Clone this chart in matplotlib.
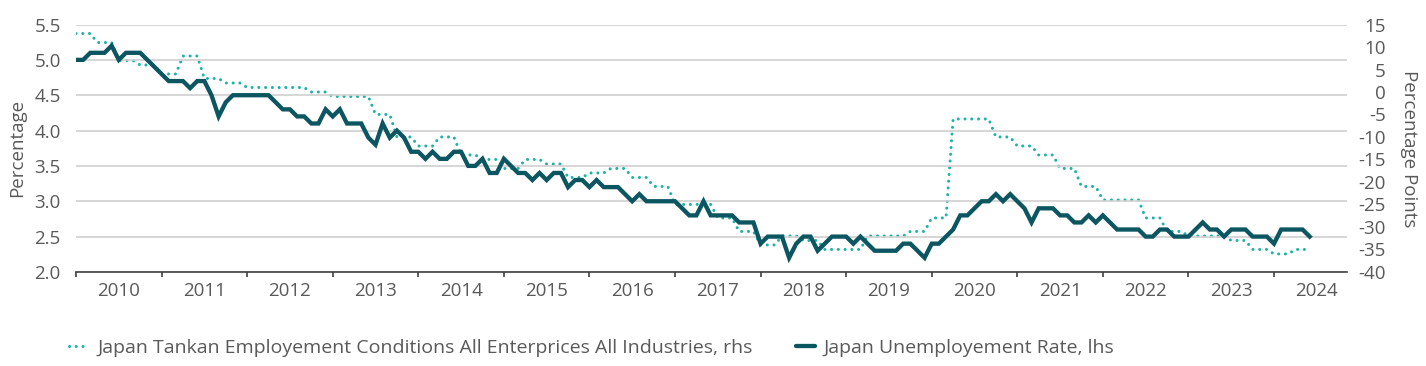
import numpy as np
import matplotlib
matplotlib.use("Agg")
from matplotlib import pyplot as plt

plt.rcParams["font.family"] = ["Open Sans", "DejaVu Sans"]

# monthly, Jan 2010 - Jun 2024
unemployment = [
    5.0, 5.0, 5.1, 5.1, 5.1, 5.2, 5.0, 5.1, 5.1, 5.1, 5.0, 4.9,  # 2010
    4.8, 4.7, 4.7, 4.7, 4.6, 4.7, 4.7, 4.5, 4.2, 4.4, 4.5, 4.5,  # 2011
    4.5, 4.5, 4.5, 4.5, 4.4, 4.3, 4.3, 4.2, 4.2, 4.1, 4.1, 4.3,  # 2012
    4.2, 4.3, 4.1, 4.1, 4.1, 3.9, 3.8, 4.1, 3.9, 4.0, 3.9, 3.7,  # 2013
    3.7, 3.6, 3.7, 3.6, 3.6, 3.7, 3.7, 3.5, 3.5, 3.6, 3.4, 3.4,  # 2014
    3.6, 3.5, 3.4, 3.4, 3.3, 3.4, 3.3, 3.4, 3.4, 3.2, 3.3, 3.3,  # 2015
    3.2, 3.3, 3.2, 3.2, 3.2, 3.1, 3.0, 3.1, 3.0, 3.0, 3.0, 3.0,  # 2016
    3.0, 2.9, 2.8, 2.8, 3.0, 2.8, 2.8, 2.8, 2.8, 2.7, 2.7, 2.7,  # 2017
    2.4, 2.5, 2.5, 2.5, 2.2, 2.4, 2.5, 2.5, 2.3, 2.4, 2.5, 2.5,  # 2018
    2.5, 2.4, 2.5, 2.4, 2.3, 2.3, 2.3, 2.3, 2.4, 2.4, 2.3, 2.2,  # 2019
    2.4, 2.4, 2.5, 2.6, 2.8, 2.8, 2.9, 3.0, 3.0, 3.1, 3.0, 3.1,  # 2020
    3.0, 2.9, 2.7, 2.9, 2.9, 2.9, 2.8, 2.8, 2.7, 2.7, 2.8, 2.7,  # 2021
    2.8, 2.7, 2.6, 2.6, 2.6, 2.6, 2.5, 2.5, 2.6, 2.6, 2.5, 2.5,  # 2022
    2.5, 2.6, 2.7, 2.6, 2.6, 2.5, 2.6, 2.6, 2.6, 2.5, 2.5, 2.5,  # 2023
    2.4, 2.6, 2.6, 2.6, 2.6, 2.5,                                # 2024
]

# quarterly survey, shown on the monthly grid
tankan = [
    13, 13, 13, 11, 11, 11, 7, 7, 7, 6, 6, 6,  # 2010
    4, 4, 4, 8, 8, 8, 3, 3, 3, 2, 2, 2,  # 2011
    1, 1, 1, 1, 1, 1, 1, 1, 1, 0, 0, 0,  # 2012
    -1, -1, -1, -1, -1, -1, -5, -5, -5, -10, -10, -10,  # 2013
    -12, -12, -12, -10, -10, -10, -14, -14, -14, -15, -15, -15,  # 2014
    -17, -17, -17, -15, -15, -15, -16, -16, -16, -19, -19, -19,  # 2015
    -18, -18, -18, -17, -17, -17, -19, -19, -19, -21, -21, -21,  # 2016
    -25, -25, -25, -25, -25, -25, -28, -28, -28, -31, -31, -31,  # 2017
    -34, -34, -34, -32, -32, -32, -33, -33, -33, -35, -35, -35,  # 2018
    -35, -35, -35, -32, -32, -32, -32, -32, -32, -31, -31, -31,  # 2019
    -28, -28, -28, -6, -6, -6, -6, -6, -6, -10, -10, -10,  # 2020
    -12, -12, -12, -14, -14, -14, -17, -17, -17, -21, -21, -21,  # 2021
    -24, -24, -24, -24, -24, -24, -28, -28, -28, -31, -31, -31,  # 2022
    -32, -32, -32, -32, -32, -32, -33, -33, -33, -35, -35, -35,  # 2023
    -36, -36, -36, -35, -35, -35,  # 2024
]

years = list(range(2010, 2025))
left_ticks = [2.0, 2.5, 3.0, 3.5, 4.0, 4.5, 5.0, 5.5]
right_ticks = list(range(-40, 20, 5))

dark = "#0b5661"
teal = "#1db3a5"
grey_text = "#595959"
fs = 13.5

x = 2010 + np.arange(len(unemployment)) / 12

fig = plt.figure(figsize=(14.26, 3.66), dpi=100)
ax = fig.add_axes([0.0533, 0.257, 0.8913, 0.676])
ax2 = ax.twinx()

ax.plot(x, unemployment, color=dark, lw=3.1, solid_joinstyle="miter",
        zorder=3, label="Japan Unemployement Rate, lhs")
ax2.plot(x, tankan, color=teal, lw=2.2, linestyle=(0, (0.01, 2.2)),
         dash_capstyle="round",
         label="Japan Tankan Employement Conditions All Enterprices All Industries, rhs")

# dark line above the dotted one
ax.set_zorder(ax2.get_zorder() + 1)
ax.patch.set_visible(False)

ax.set_xlim(2010, 2024.853)
ax.set_ylim(2.0, 5.5)
ax2.set_ylim(-40, 15)

ax.set_yticks(left_ticks)
ax.set_yticklabels([f"{v:.1f}" for v in left_ticks])
ax2.set_yticks(right_ticks)
ax2.set_yticklabels([str(v) for v in right_ticks])

ax.set_xticks(years)
ax.set_xticklabels([])
ax.set_xticks([y + 0.5 for y in years], minor=True)
ax.set_xticklabels([str(y) for y in years], minor=True)
ax.tick_params(axis="x", which="major", length=3.5, width=1.2, color="#404040")
ax.tick_params(axis="x", which="minor", length=0, pad=7, labelsize=fs,
               labelcolor=grey_text)

ax.tick_params(axis="y", length=0, pad=11, labelsize=fs, labelcolor=grey_text)
ax2.tick_params(axis="y", length=0, pad=28, labelsize=fs, labelcolor=grey_text)
for lab in ax2.get_yticklabels():
    lab.set_horizontalalignment("right")

ax.grid(axis="y", color="#cfcfcf", lw=1.2)
ax.set_axisbelow(True)

for a in (ax, ax2):
    for side in ("top", "left", "right", "bottom"):
        a.spines[side].set_visible(False)
ax.spines["bottom"].set_visible(True)
ax.spines["bottom"].set_color("#404040")
ax.spines["bottom"].set_linewidth(1.2)

ax.set_ylabel("Percentage", fontsize=fs, color=grey_text, labelpad=6)
ax2.set_ylabel("Percentage Points", fontsize=fs, color=grey_text,
               rotation=270, labelpad=10, va="bottom")

h1, l1 = ax2.get_legend_handles_labels()
h2, l2 = ax.get_legend_handles_labels()
leg = fig.legend(h1 + h2, l1 + l2, loc="center", ncol=2, frameon=False,
                 bbox_to_anchor=(592 / 1426, 1 - 348 / 366), fontsize=14,
                 handlelength=1.0, handletextpad=0.45, columnspacing=2.2,
                 labelcolor=grey_text)
for line in leg.get_lines():
    line.set_solid_capstyle("round")

fig.savefig("out.png", dpi=100)
